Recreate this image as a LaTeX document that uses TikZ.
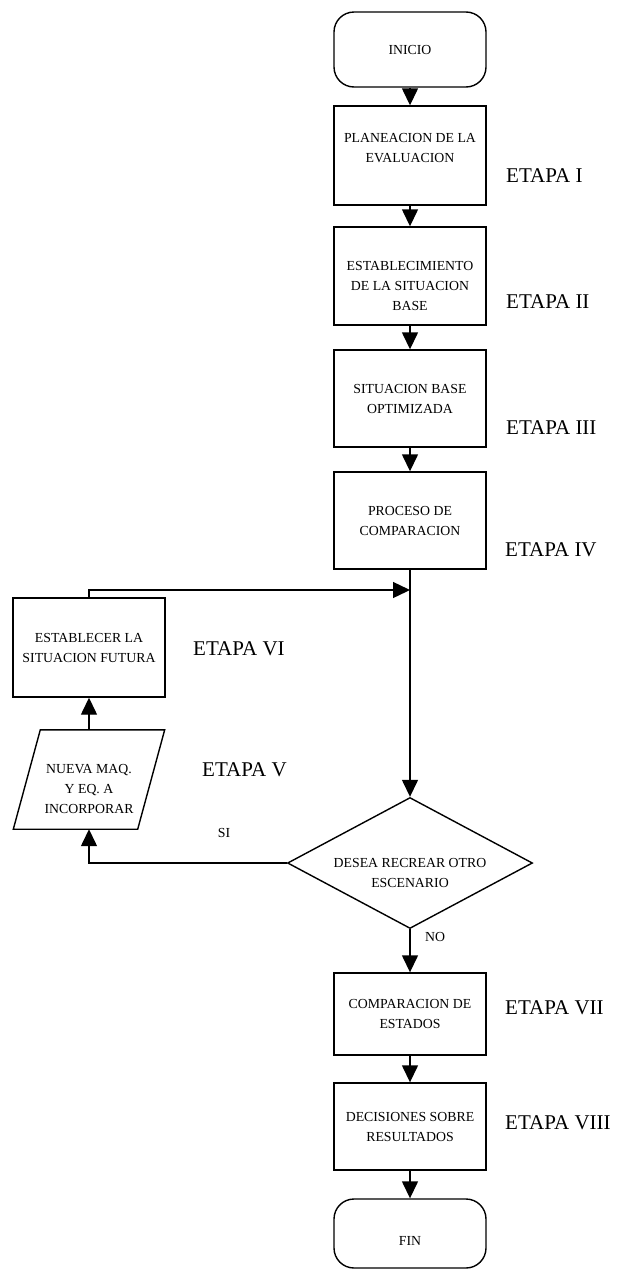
\documentclass[tikz,border=0pt]{standalone}
\usepackage{fontspec}
\setmainfont{Liberation Serif}
\usetikzlibrary{arrows.meta,shapes.geometric}
\newcommand\bxfont{\fontsize{13.8}{20}\selectfont}
\newcommand\etfont{\fontsize{21}{24}\selectfont}
\begin{document}
\begin{tikzpicture}[x=1pt,y=-1pt,
  every node/.style={inner sep=0pt},
  stepbox/.style={draw, line width=1.4pt, minimum width=152pt, align=center, font=\bxfont},
  term/.style={stepbox, rounded corners=20pt},
  decision/.style={draw, line width=1.4pt, diamond, aspect=1.87, minimum width=245pt, minimum height=131pt},
  txt/.style={align=center, font=\bxfont},
  etapa/.style={anchor=west, font=\etfont},
  flow/.style={line width=1.4pt, -{Triangle[width=16pt,length=17pt]}}]
\useasboundingbox (0,0) rectangle (621,1272);

% main column
\node[term, minimum height=75pt] (ini) at (410,49.5) {INICIO};
\node[stepbox, minimum height=99pt] (b1) at (410,155.5) {};
\node[txt] (t1) at (410,148) {PLANEACION DE LA\\EVALUACION};
\node[stepbox, minimum height=98pt] (b2) at (410,276) {};
\node[txt] (t2) at (410,286) {ESTABLECIMIENTO\\DE LA SITUACION\\BASE};
\node[stepbox, minimum height=97pt] (b3) at (410,398.5) {SITUACION BASE\\OPTIMIZADA};
\node[stepbox, minimum height=97pt] (b4) at (410,520.5) {PROCESO DE\\COMPARACION};
\node[decision] (dia) at (410,863) {};
\node[txt] (td) at (410,873) {DESEA RECREAR OTRO\\ESCENARIO};
\node[stepbox, minimum height=82pt] (b7) at (410,1014) {COMPARACION DE\\ESTADOS};
\node[stepbox, minimum height=87pt] (b8) at (410,1126.5) {DECISIONES SOBRE\\RESULTADOS};
\node[term, minimum height=69pt] (fin) at (410,1233.5) {};
\node[txt] (tf) at (410,1241) {FIN};

% loop column
\node[stepbox, minimum height=99pt] (b6) at (89,647.5) {ESTABLECER LA\\SITUACION FUTURA};
\node[minimum width=124pt, minimum height=99pt] (b5) at (89,779.5) {};
\draw[line width=1.4pt] ([xshift=13.5pt]b5.north west) -- ([xshift=13.5pt]b5.north east)
  -- ([xshift=-13.5pt]b5.south east) -- ([xshift=-13.5pt]b5.south west) -- cycle;
\node[txt] (t5) at (89,789) {NUEVA MAQ.\\Y EQ. A\\INCORPORAR};

% stage labels
\node[etapa] (e1) at (506,175.5) {ETAPA I};
\node[etapa] (e2) at (506,302) {ETAPA II};
\node[etapa] (e3) at (506,428) {ETAPA III};
\node[etapa] (e4) at (505,550) {ETAPA IV};
\node[etapa] (e6) at (193,649) {ETAPA VI};
\node[etapa] (e5) at (202,770) {ETAPA V};
\node[etapa] (e7) at (505,1008) {ETAPA VII};
\node[etapa] (e8) at (505,1123) {ETAPA VIII};

% connectors
\coordinate (jn) at (410,590);
\draw[flow] (ini.south) -- (b1.north);
\draw[flow] (b1.south) -- (b2.north);
\draw[flow] (b2.south) -- (b3.north);
\draw[flow] (b3.south) -- (b4.north);
\draw[flow] (b4.south) -- (dia.north);
\draw[flow] (b6.north) |- (jn);
\draw[flow] (dia.west) -| (b5.south);
\draw[flow] (b5.north) -- (b6.south);
\draw[flow] (dia.south) -- (b7.north);
\draw[flow] (b7.south) -- (b8.north);
\draw[flow] (b8.south) -- (fin.north);

% branch labels
\node[txt] (si) at (224,833) {SI};
\node[txt] (no) at (435,937) {NO};
\end{tikzpicture}
\end{document}
